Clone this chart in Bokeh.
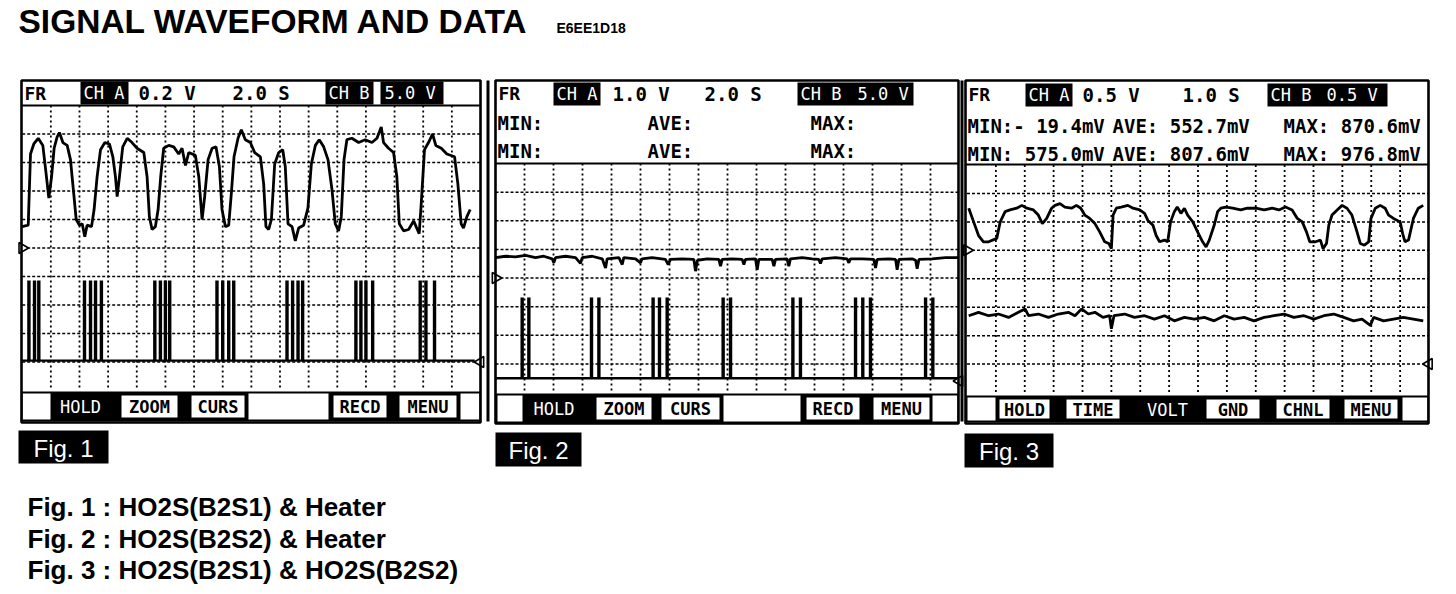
import numpy as np
from bokeh.plotting import figure
from bokeh.models import Range1d
from bokeh.core.properties import value
from bokeh.embed import file_html
from bokeh.resources import INLINE

# ------------------------------------------------------------------ data
TITLE = "SIGNAL WAVEFORM AND DATA"
DOC_CODE = "E6EE1D18"
FIG_LABELS = ["Fig. 1", "Fig. 2", "Fig. 3"]
CAPTIONS = ["Fig. 1 :  HO2S(B2S1) & Heater",
            "Fig. 2 :  HO2S(B2S2) & Heater",
            "Fig. 3 :  HO2S(B2S1) & HO2S(B2S2)"]

CH_A_VDIV = [0.2, 1.0, 0.5]      # V / div
CH_B_VDIV = [5.0, 5.0, 0.5]      # V / div
TIME_DIV = [2.0, 2.0, 1.0]       # s / div

STAT_ROWS_2 = [["MIN:", "AVE:", "MAX:"], ["MIN:", "AVE:", "MAX:"]]
STAT_ROWS_3 = [["MIN:- 19.4mV", "AVE: 552.7mV", "MAX: 870.6mV"],
               ["MIN: 575.0mV", "AVE: 807.6mV", "MAX: 976.8mV"]]

BUTTONS_1 = ["HOLD", "ZOOM", "CURS", "RECD", "MENU"]
BUTTONS_2 = ["HOLD", "ZOOM", "CURS", "RECD", "MENU"]
BUTTONS_3 = ["HOLD", "TIME", "VOLT", "GND", "CHNL", "MENU"]

# Fig.1  CH A : HO2S (B2S1)  [s], [V]
fig1_a_t = [0.00, 0.42, 0.58, 0.81, 1.12, 1.44, 1.67, 1.86, 2.05, 2.23,
            2.44, 2.60, 2.84, 3.14, 3.37, 3.60, 3.77, 4.00, 4.19, 4.37,
            4.53, 4.84, 5.02, 5.23, 5.47, 5.77, 6.09, 6.33, 6.51, 6.63,
            6.79, 7.02, 7.33, 7.67, 8.02, 8.49, 8.72, 8.88, 9.07, 9.30,
            9.49, 9.67, 9.88, 10.23, 10.58, 10.93, 11.16, 11.40, 11.63, 12.09,
            12.33, 12.56, 12.74, 12.98, 13.26, 13.53, 13.77, 13.95, 14.19, 14.42,
            14.60, 14.79, 15.07, 15.30, 15.58, 15.93, 16.23, 16.63, 16.86, 17.02,
            17.21, 17.40, 17.63, 17.91, 18.19, 18.37, 18.56, 18.84, 19.07, 19.30,
            19.65, 19.95, 20.19, 20.47, 20.74, 21.05, 21.35, 21.63, 21.86, 22.09,
            22.28, 22.47, 22.67, 23.02, 23.49, 23.95, 24.42, 24.77, 25.07, 25.23,
            25.58, 25.93, 26.16, 26.33, 26.63, 26.98, 27.33, 27.72, 27.86, 28.09,
            28.37, 28.65, 28.88, 29.26, 29.65, 30.19, 30.42, 30.65, 30.81, 31.05,
            31.28]
fig1_a_v = [0.15, 0.16, 0.66, 0.73, 0.77, 0.72, 0.52, 0.35, 0.50, 0.70,
            0.78, 0.81, 0.74, 0.72, 0.62, 0.38, 0.20, 0.16, 0.17, 0.08,
            0.16, 0.15, 0.27, 0.50, 0.69, 0.74, 0.73, 0.64, 0.50, 0.36,
            0.50, 0.71, 0.77, 0.74, 0.70, 0.67, 0.50, 0.22, 0.13, 0.15,
            0.27, 0.50, 0.70, 0.72, 0.71, 0.66, 0.70, 0.58, 0.67, 0.65,
            0.50, 0.20, 0.36, 0.62, 0.70, 0.71, 0.57, 0.27, 0.15, 0.16,
            0.38, 0.64, 0.77, 0.83, 0.76, 0.74, 0.67, 0.64, 0.45, 0.15,
            0.13, 0.20, 0.59, 0.67, 0.69, 0.57, 0.17, 0.15, 0.05, 0.14,
            0.16, 0.28, 0.59, 0.72, 0.76, 0.71, 0.62, 0.41, 0.17, 0.12,
            0.22, 0.62, 0.76, 0.77, 0.74, 0.76, 0.74, 0.77, 0.85, 0.74,
            0.70, 0.67, 0.50, 0.17, 0.12, 0.13, 0.19, 0.10, 0.31, 0.69,
            0.74, 0.80, 0.72, 0.70, 0.66, 0.64, 0.45, 0.17, 0.14, 0.22,
            0.27]
# Fig.1  CH B : heater pulses
fig1_b_pulse_t = [0.47, 0.86, 1.16, 4.35, 4.77, 5.12, 5.53, 9.26, 9.65, 10.00, 10.30,
                  13.60, 14.00, 14.42, 14.77, 18.49, 18.88, 19.26, 19.58,
                  23.30, 23.65, 24.00, 24.47, 27.79, 28.19, 28.79]
fig1_b_base_v = 0.25
fig1_b_pulse_v = 14.3

# Fig.2  CH A : HO2S (B2S2)
fig2_a_t = [0.00, 0.69, 1.38, 2.07, 2.76, 3.33, 3.91, 4.02, 4.14, 4.83,
            5.52, 5.86, 5.98, 6.67, 7.36, 7.59, 7.70, 8.51, 8.74, 8.85,
            9.66, 10.00, 10.11, 10.80, 11.72, 11.91, 12.07, 12.87, 13.68, 13.79,
            13.93, 14.60, 15.40, 15.52, 15.63, 16.32, 17.01, 17.13, 17.24, 17.93,
            18.05, 18.16, 19.08, 19.20, 19.31, 20.11, 20.23, 20.34, 21.15, 21.84,
            22.30, 22.41, 22.53, 23.45, 24.25, 24.37, 24.48, 25.29, 26.09, 26.21,
            26.32, 27.13, 27.59, 27.70, 27.82, 28.74, 28.97, 29.08, 29.20, 30.11,
            31.03, 31.95]
fig2_a_v = [0.71, 0.76, 0.74, 0.79, 0.71, 0.76, 0.67, 0.53, 0.71, 0.76,
            0.71, 0.51, 0.71, 0.76, 0.67, 0.35, 0.67, 0.71, 0.47, 0.71,
            0.67, 0.53, 0.67, 0.71, 0.65, 0.47, 0.65, 0.67, 0.65, 0.24,
            0.62, 0.67, 0.65, 0.41, 0.65, 0.67, 0.65, 0.47, 0.65, 0.67,
            0.29, 0.65, 0.65, 0.41, 0.65, 0.67, 0.41, 0.67, 0.71, 0.67,
            0.65, 0.51, 0.67, 0.71, 0.67, 0.53, 0.67, 0.67, 0.65, 0.35,
            0.65, 0.67, 0.65, 0.29, 0.65, 0.67, 0.62, 0.32, 0.65, 0.67,
            0.71, 0.71]
# Fig.2  CH B : heater pulses
fig2_b_pulse_t = [1.84, 2.30, 6.62, 7.13, 10.87, 11.31, 11.84, 15.70, 16.21,
                  20.51, 21.03, 24.83, 25.33, 25.86, 29.66, 30.16]
fig2_b_base_v = 0.5
fig2_b_pulse_v = 14.6

# Fig.3  CH A : HO2S (B2S1)
fig3_a_t = [0.06, 0.23, 0.40, 0.57, 0.75, 1.03, 1.15, 1.32, 1.49, 1.72,
            1.90, 2.07, 2.30, 2.47, 2.61, 2.76, 2.93, 3.05, 3.22, 3.39,
            3.62, 3.79, 3.94, 4.08, 4.25, 4.43, 4.60, 4.77, 4.91, 5.00,
            5.06, 5.17, 5.34, 5.57, 5.75, 5.98, 6.15, 6.26, 6.44, 6.55,
            6.67, 6.84, 6.95, 7.05, 7.18, 7.28, 7.41, 7.53, 7.64, 7.82,
            7.99, 8.16, 8.28, 8.39, 8.56, 8.68, 8.79, 8.97, 9.20, 9.48,
            9.71, 10.00, 10.29, 10.57, 10.80, 11.03, 11.26, 11.44, 11.61, 11.76,
            11.87, 12.07, 12.24, 12.33, 12.45, 12.53, 12.64, 12.82, 12.99, 13.16,
            13.33, 13.51, 13.62, 13.76, 13.91, 13.99, 14.14, 14.31, 14.48, 14.60,
            14.77, 15.00, 15.09, 15.17, 15.29, 15.46, 15.63, 15.80]
fig3_a_v = [0.74, 0.50, 0.26, 0.15, 0.15, 0.21, 0.50, 0.68, 0.71, 0.74,
            0.79, 0.74, 0.71, 0.62, 0.47, 0.56, 0.74, 0.79, 0.82, 0.76,
            0.74, 0.79, 0.74, 0.62, 0.56, 0.47, 0.32, 0.15, 0.12, 0.03,
            0.62, 0.74, 0.76, 0.79, 0.74, 0.71, 0.65, 0.53, 0.44, 0.26,
            0.15, 0.18, 0.15, 0.50, 0.68, 0.76, 0.65, 0.74, 0.62, 0.50,
            0.32, 0.15, 0.06, 0.18, 0.44, 0.68, 0.74, 0.76, 0.74, 0.71,
            0.74, 0.74, 0.71, 0.74, 0.71, 0.76, 0.71, 0.56, 0.50, 0.32,
            0.15, 0.15, 0.18, 0.03, 0.12, 0.44, 0.62, 0.71, 0.79, 0.74,
            0.62, 0.32, 0.12, 0.09, 0.15, 0.56, 0.74, 0.79, 0.74, 0.62,
            0.56, 0.50, 0.29, 0.15, 0.18, 0.56, 0.74, 0.79]
# Fig.3  CH B : HO2S (B2S2)
fig3_b_t = [0.06, 0.40, 0.75, 1.09, 1.44, 1.78, 2.01, 2.13, 2.47, 2.82,
            3.16, 3.51, 3.74, 3.97, 4.20, 4.43, 4.71, 4.94, 5.00, 5.09,
            5.46, 5.80, 6.15, 6.49, 6.84, 7.18, 7.53, 7.87, 8.22, 8.56,
            8.91, 9.25, 9.60, 9.94, 10.29, 10.63, 10.98, 11.32, 11.67, 12.01,
            12.36, 12.70, 13.05, 13.39, 13.68, 13.97, 14.08, 14.43, 14.77, 15.11,
            15.46, 15.80]
fig3_b_v = [0.85, 0.91, 0.85, 0.88, 0.82, 0.91, 0.97, 0.85, 0.88, 0.82,
            0.88, 0.91, 0.85, 0.97, 0.88, 0.91, 0.82, 0.85, 0.62, 0.85,
            0.88, 0.82, 0.85, 0.79, 0.85, 0.76, 0.82, 0.79, 0.82, 0.76,
            0.85, 0.79, 0.82, 0.76, 0.82, 0.85, 0.88, 0.82, 0.85, 0.79,
            0.85, 0.88, 0.82, 0.76, 0.79, 0.68, 0.82, 0.76, 0.79, 0.82,
            0.79, 0.76]

# ------------------------------------------------------------------ layout
W, H = 1448, 586
OX, OY = 0, 0
MONO = value("DejaVu Sans Mono")
SANS = value("Liberation Sans")

p = figure(width=W, height=H, x_range=Range1d(OX, OX + W), y_range=Range1d(OY + H, OY),
           x_axis_type=None, y_axis_type=None, toolbar_location=None,
           output_backend="svg", min_border=0, outline_line_color=None,
           background_fill_color="white", border_fill_color="white")


def mapped_range(d0, d1, p0, p1, axis):
    f_start, f_end = (OX, OX + W) if axis == "x" else (OY + H, OY)
    s = (d1 - d0) / (p1 - p0)
    return Range1d(start=d0 + (f_start - p0) * s, end=d0 + (f_end - p0) * s)


PANELS = [
    dict(box=(21, 480, 80, 422), grid=(21.7, 480.0, 105.0, 390.0), ny=10, zero_a=5, zero_b=1,
         hdr_sep=105, row=(21, 480, 391, 421),
         fillers=[(22, 50), (248, 328), (460, 479)],
         btns=[(50, 110, "inv"), (120, 178, "box"), (190, 245, "box"), (332, 387, "box"), (398, 457, "box")]),
    dict(box=(495, 958, 80, 423), grid=(495.0, 959.0, 163.0, 392.0), ny=8, zero_a=4, zero_b=0.4,
         hdr_sep=163, row=(495, 958, 393, 423),
         fillers=[(497, 522), (723, 800), (932, 957)],
         btns=[(522, 585, "inv"), (595, 652, "box"), (660, 720, "box"), (805, 860, "box"), (872, 930, "box")]),
    dict(box=(965, 1428, 80, 423), grid=(966.5, 1428.5, 164.5, 392.0), ny=8, zero_a=5, zero_b=1,
         hdr_sep=164, row=(965, 1428, 395, 422),
         fillers=[(967, 995), (1402, 1427)],
         btns=[(998, 1050, "box"), (1065, 1120, "box"), (1132, 1202, "inv"), (1205, 1260, "box"),
               (1275, 1330, "box"), (1343, 1398, "box")]),
]
BUTTON_NAMES = [BUTTONS_1, BUTTONS_2, BUTTONS_3]

xr, yr = {}, {}
for i, P in enumerate(PANELS):
    gx0, gx1, gy0, gy1 = P["grid"]
    ch = (gy1 - gy0) / P["ny"]
    xr[f"t{i}"] = mapped_range(0, 16 * TIME_DIV[i], gx0, gx1, "x")
    a0 = gy1 - P["zero_a"] * ch
    yr[f"a{i}"] = mapped_range(0, CH_A_VDIV[i], a0, a0 - ch, "y")
    b0 = gy1 - P["zero_b"] * ch
    yr[f"b{i}"] = mapped_range(0, CH_B_VDIV[i], b0, b0 - ch, "y")
p.extra_x_ranges = xr
p.extra_y_ranges = yr

# ---- grids
for i, P in enumerate(PANELS):
    gx0, gx1, gy0, gy1 = P["grid"]
    cw = (gx1 - gx0) / 16
    ch = (gy1 - gy0) / P["ny"]
    xs = [gx0 + k * cw for k in range(1, 16)]
    ys = [gy0 + j * ch for j in range(1, P["ny"])]
    p.segment(x0=xs, y0=gy0, x1=xs, y1=gy1, line_color="black", line_width=1.8, line_dash="2 3")
    p.segment(x0=gx0, y0=ys, x1=gx1, y1=ys, line_color="black", line_width=1.5, line_dash="3 2")

# ---- waveforms
TRACE_W = 2.8
PULSE_W = 3.4
# Fig 1
p.line(fig1_a_t, fig1_a_v, x_range_name="t0", y_range_name="a0", line_color="black", line_width=TRACE_W)
p.segment(x0=0, y0=fig1_b_base_v, x1=16 * TIME_DIV[0] - 0.4, y1=fig1_b_base_v,
          x_range_name="t0", y_range_name="b0", line_color="black", line_width=2.4)
p.segment(x0=fig1_b_pulse_t, y0=fig1_b_base_v, x1=fig1_b_pulse_t, y1=fig1_b_pulse_v,
          x_range_name="t0", y_range_name="b0", line_color="black", line_width=PULSE_W)
# Fig 2
p.line(fig2_a_t, fig2_a_v, x_range_name="t1", y_range_name="a1", line_color="black", line_width=TRACE_W)
p.segment(x0=0, y0=fig2_b_base_v, x1=16 * TIME_DIV[1], y1=fig2_b_base_v,
          x_range_name="t1", y_range_name="b1", line_color="black", line_width=2.4)
p.segment(x0=fig2_b_pulse_t, y0=fig2_b_base_v, x1=fig2_b_pulse_t, y1=fig2_b_pulse_v,
          x_range_name="t1", y_range_name="b1", line_color="black", line_width=PULSE_W)
# Fig 3
p.line(fig3_a_t, fig3_a_v, x_range_name="t2", y_range_name="a2", line_color="black", line_width=TRACE_W)
p.line(fig3_b_t, fig3_b_v, x_range_name="t2", y_range_name="b2", line_color="black", line_width=TRACE_W)

# ---- zero markers (CH A on the left, CH B on the right)
for i in range(3):
    p.scatter(x=[0], y=[0], x_range_name=f"t{i}", y_range_name=f"a{i}", marker="triangle",
              angle=-np.pi / 2, size=11, fill_color="white", line_color="black", line_width=1.6)
    p.scatter(x=[16 * TIME_DIV[i]], y=[0], x_range_name=f"t{i}", y_range_name=f"b{i}", marker="triangle",
              angle=np.pi / 2, size=11, fill_color="white", line_color="black", line_width=1.6)

# ---- header areas
# panel 1 header (single row)
p.quad(left=[80, 325, 380], right=[128, 373, 443], top=81, bottom=104, fill_color="black", line_color=None)
p.text(x=[24], y=[92.5], text=["FR"], text_font=MONO, text_font_style="bold", text_font_size="18px",
       text_baseline="middle", text_color="black")
p.text(x=[83, 328, 384], y=[92.5] * 3, text=["CH A", "CH B", f"{CH_B_VDIV[0]:.1f} V"], text_font=MONO,
       text_font_size="17px", text_baseline="middle", text_color="white")
p.text(x=[138, 232], y=[92.5] * 2, text=[f"{CH_A_VDIV[0]:.1f} V", f"{TIME_DIV[0]:.1f} S"], text_font=MONO,
       text_font_style="bold", text_font_size="19px", text_baseline="middle", text_color="black")

# panel 2 header
p.quad(left=[553, 797], right=[600, 913], top=82, bottom=105, fill_color="black", line_color=None)
p.text(x=[498], y=[93], text=["FR"], text_font=MONO, text_font_style="bold", text_font_size="18px",
       text_baseline="middle", text_color="black")
p.text(x=[556, 800, 857], y=[93] * 3, text=["CH A", "CH B", f"{CH_B_VDIV[1]:.1f} V"], text_font=MONO,
       text_font_size="17px", text_baseline="middle", text_color="white")
p.text(x=[612, 704], y=[93] * 2, text=[f"{CH_A_VDIV[1]:.1f} V", f"{TIME_DIV[1]:.1f} S"], text_font=MONO,
       text_font_style="bold", text_font_size="19px", text_baseline="middle", text_color="black")
for r, yy in zip(STAT_ROWS_2, [122, 150]):
    p.text(x=[497, 647, 810], y=[yy] * 3, text=r, text_font=MONO, text_font_style="bold",
           text_font_size="19px", text_baseline="middle", text_color="black")

# panel 3 header
p.quad(left=[1025, 1267], right=[1072, 1387], top=83, bottom=106, fill_color="black", line_color=None)
p.text(x=[968], y=[94], text=["FR"], text_font=MONO, text_font_style="bold", text_font_size="18px",
       text_baseline="middle", text_color="black")
p.text(x=[1028, 1270, 1326], y=[94] * 3, text=["CH A", "CH B", f"{CH_B_VDIV[2]:.1f} V"], text_font=MONO,
       text_font_size="17px", text_baseline="middle", text_color="white")
p.text(x=[1082, 1182], y=[94] * 2, text=[f"{CH_A_VDIV[2]:.1f} V", f"{TIME_DIV[2]:.1f} S"], text_font=MONO,
       text_font_style="bold", text_font_size="19px", text_baseline="middle", text_color="black")
for r, yy in zip(STAT_ROWS_3, [125, 153]):
    p.text(x=[967, 1112, 1283], y=[yy] * 3, text=r, text_font=MONO, text_font_style="bold",
           text_font_size="19px", text_baseline="middle", text_color="black")

# ---- header separators & button rows
for i, P in enumerate(PANELS):
    x0, x1, y0, y1 = P["box"]
    p.segment(x0=x0, y0=P["hdr_sep"], x1=x1, y1=P["hdr_sep"], line_color="black", line_width=2)
    rl, rr, rt, rb = P["row"]
    p.quad(left=rl, right=rr, top=rt, bottom=rb, fill_color="black", line_color=None)
    p.quad(left=[f[0] for f in P["fillers"]], right=[f[1] for f in P["fillers"]],
           top=rt + 2, bottom=rb - 2, fill_color="white", line_color=None)
    for name, (bl, br, kind) in zip(BUTTON_NAMES[i], P["btns"]):
        cx, cy = (bl + br) / 2, (rt + rb) / 2
        if kind == "box":
            p.quad(left=bl, right=br, top=rt + 3, bottom=rb - 3, fill_color="white",
                   line_color="black", line_width=2)
            p.text(x=[cx], y=[cy + 0.5], text=[name], text_font=MONO, text_font_style="bold",
                   text_font_size="17px", text_align="center", text_baseline="middle", text_color="black")
        else:
            p.text(x=[cx], y=[cy + 0.5], text=[name], text_font=MONO, text_font_size="17px",
                   text_align="center", text_baseline="middle", text_color="white")
    # outer border
    p.quad(left=x0, right=x1, top=y0, bottom=y1, fill_color=None, line_color="black", line_width=2.6)

# scope bezel edges
p.segment(x0=[487.5, 961.5], y0=80, x1=[487.5, 961.5], y1=421, line_color="black", line_width=3)

# ---- figure labels
LBL_BOX = [(18, 108, 430, 463), (495, 581, 432, 466), (964, 1053, 433, 467)]
p.quad(left=[b[0] for b in LBL_BOX], right=[b[1] for b in LBL_BOX], top=[b[2] for b in LBL_BOX],
       bottom=[b[3] for b in LBL_BOX], fill_color="black", line_color=None)
p.text(x=[(b[0] + b[1]) / 2 for b in LBL_BOX], y=[(b[2] + b[3]) / 2 + 1 for b in LBL_BOX], text=FIG_LABELS,
       text_font=SANS, text_font_size="24px", text_align="center", text_baseline="middle", text_color="white")

# ---- title & captions
p.text(x=[18], y=[21], text=[TITLE], text_font=SANS, text_font_style="bold", text_font_size="33.5px",
       text_baseline="middle", text_color="black")
p.text(x=[556], y=[27], text=[DOC_CODE], text_font=SANS, text_font_style="bold", text_font_size="14px",
       text_baseline="middle", text_color="black")
p.text(x=[27] * 3, y=[506, 538, 569], text=CAPTIONS, text_font=SANS, text_font_style="bold",
       text_font_size="26px", text_baseline="middle", text_color="black")

open("out.html", "w").write(file_html(p, INLINE))
